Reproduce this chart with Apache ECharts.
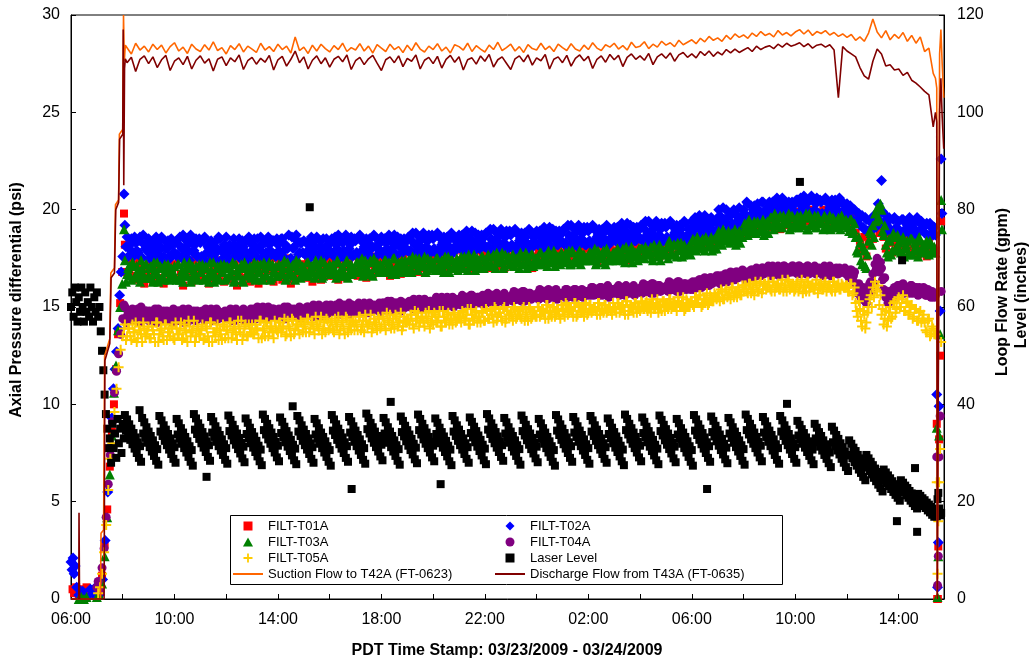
<!DOCTYPE html>
<html>
<head>
<meta charset="utf-8">
<script src="https://cdn.jsdelivr.net/npm/echarts@6/dist/echarts.min.js"></script>
<style>
  html, body { margin: 0; padding: 0; background: #fff; }
  #chart { width: 1033px; height: 664px; }
</style>
</head>
<body>
<div id="chart"></div>
<script>
// Time is in hours after 06:00 on 03/23/2009.
// Start-up and shut-down readings are listed as [hour, value].
// Steady-run filter / level readings: first reading of each 5-minute slot from 08:05 ("Run"),
// second reading 2.5 minutes later ("Run2"); one row per clock hour.
// Flow readings every 10 minutes from 08:10 to 15:20.
const FILT_START_H = 2 + 1 / 12;
const FILT_STEP_H = 1 / 12;
const SECOND_READING_START_H = 2 + 1 / 8;
const FLOW_START_H = 2 + 1 / 6;
const FLOW_STEP_H = 1 / 6;

// ---- FILT-T01A (psi) ----
const t01aStart = [[0.06,0.5],[0.12,0.3],[0.2,0.6],[0.3,0.2],[0.4,0.5],[0.5,0.3],[0.6,0.6],[0.7,0.4],[0.8,0.2],[0.9,0.5],[0.98,0.3],[1.1,0.4],
  [1.2,1.2],[1.3,2.8],[1.4,4.6],[1.5,6.8],[1.58,8.6],[1.66,10.0],[1.74,11.8],[1.82,13.6],[1.9,15.2],[1.98,16.8],[2.05,19.8]];
const t01aRun = [
  18.2,17.5,16.8,17.4,16.6,17.2,16.4,17.3,16.9,16.2,17.1,
  16.8,17.4,16.3,17.0,17.5,16.5,17.1,16.2,16.9,17.3,16.6,17.0,
  17.2,16.4,17.5,16.7,16.1,17.3,16.8,17.0,16.3,17.4,16.6,16.9,
  16.5,17.3,16.9,17.5,16.2,16.8,17.2,16.4,17.1,16.7,17.4,16.3,
  17.0,16.4,17.4,16.7,17.2,16.1,16.9,17.5,16.5,17.1,16.8,16.3,
  17.3,16.6,17.0,16.2,17.4,16.8,16.4,17.2,16.9,17.5,16.3,17.0,
  16.7,17.3,16.4,17.1,16.8,17.5,16.2,16.9,17.3,16.5,17.0,16.6,
  17.2,16.5,17.4,16.9,16.3,17.1,16.7,17.5,16.4,17.0,17.3,16.6,
  16.9,17.4,16.6,17.2,16.4,17.5,16.8,17.1,16.5,17.3,16.9,17.6,
  17.0,16.6,17.5,16.8,17.3,16.5,17.2,17.6,16.7,17.1,16.9,17.4,
  16.8,17.4,17.1,17.7,16.6,17.2,16.9,17.5,17.0,16.7,17.6,17.1,
  17.3,16.9,17.6,17.1,17.8,16.8,17.4,17.0,17.7,16.9,17.3,17.5,
  17.1,17.7,16.9,17.4,17.0,17.8,17.2,16.8,17.5,17.3,17.9,17.0,
  17.4,17.0,17.8,17.2,17.5,16.9,17.7,17.3,17.9,17.1,17.4,17.6,
  17.2,17.8,17.0,17.6,17.3,17.9,17.1,17.5,17.8,17.0,17.7,17.4,
  17.6,17.1,17.8,17.4,18.0,17.2,17.5,17.9,17.3,17.7,17.0,17.6,
  17.3,17.9,17.5,18.0,17.2,17.7,17.4,18.1,17.6,17.3,17.9,17.5,
  17.8,17.4,18.0,17.6,18.2,17.3,17.9,17.5,18.1,17.7,17.4,18.0,
  17.6,18.1,17.5,17.9,17.3,18.2,17.7,18.0,17.4,17.8,18.2,17.6,
  17.9,17.5,18.3,17.8,18.0,17.6,18.2,17.4,18.1,17.9,18.3,17.7,
  18.0,17.6,18.2,17.9,18.4,17.7,18.1,17.8,18.3,17.6,18.0,18.4,
  17.8,18.3,18.0,18.5,17.7,18.2,17.9,18.4,18.1,17.8,18.5,18.0,
  18.3,17.9,18.6,18.1,18.4,18.0,18.7,18.2,18.5,18.1,18.8,18.4,
  18.6,19.0,18.4,18.8,18.5,19.1,18.7,18.9,19.2,18.6,19.0,18.8,
  19.2,18.9,19.4,19.0,19.5,18.8,19.3,19.1,19.6,19.0,19.4,19.2,
  19.5,19.1,19.7,19.3,19.8,19.0,19.6,19.4,19.9,19.2,19.7,19.5,
  19.8,19.3,19.9,19.5,20.1,19.4,19.7,20.0,19.5,19.9,19.3,19.8,
  19.6,20.0,19.4,19.8,19.3,19.9,19.5,20.1,19.4,19.7,19.2,19.8,
  19.5,19.9,19.2,19.6,18.8,19.3,18.4,17.9,18.6,17.6,18.2,18.8,
  18.5,19.1,19.4,18.8,19.2,18.6,18.0,18.7,18.3,17.8,18.5,18.1,
  18.4,17.9,18.6,18.1,18.3,17.8,18.5,18.0,18.4,17.7,18.2,17.9,
  18.1,17.6,18.3,17.8,18.0];
const t01aStop = [[33.42,17.9],[33.47,9.0],[33.49,0.0],[33.51,0.0],[33.53,2.7],[33.56,8.2],[33.6,12.5],[33.64,19.4]];

// ---- FILT-T02A (psi) ----
const t02aStart = [[0.0,1.9],[0.04,1.5],[0.08,2.1],[0.12,1.3],[0.16,1.7],[0.22,0.6],[0.3,0.2],[0.45,0.4],[0.6,0.1],[0.75,0.5],[0.85,0.3],[0.95,0.6],[1.1,0.2],
  [1.22,1.0],[1.32,3.0],[1.42,5.5],[1.5,7.8],[1.58,9.3],[1.64,10.8],[1.7,11.8],[1.76,12.7],[1.82,13.9],[1.88,15.6],[1.94,16.8],[2.0,17.6],[2.05,20.8]];
const t02aRun = [
  19.2,18.6,18.0,18.5,17.6,18.3,17.8,18.6,17.5,18.2,17.9,
  18.5,17.7,18.1,17.4,18.3,17.9,18.6,17.6,18.0,18.4,17.5,18.2,
  17.8,18.4,17.5,18.1,18.7,17.7,18.2,17.4,18.3,17.9,18.5,17.6,
  18.3,17.5,18.6,17.8,18.0,18.4,17.6,18.1,17.3,18.5,17.9,18.2,
  18.6,17.8,18.0,17.5,18.2,17.9,18.5,17.6,18.1,18.4,17.4,18.3,
  17.9,18.5,17.6,18.0,18.6,17.8,18.3,17.5,18.2,17.7,18.4,17.6,
  18.2,17.6,18.5,17.9,18.1,18.7,17.5,18.0,17.4,18.4,17.8,18.3,
  18.4,17.8,18.2,17.5,18.3,18.0,18.6,17.7,18.1,18.5,17.6,18.2,
  17.9,18.5,17.6,18.2,18.7,17.8,18.3,17.5,18.4,18.0,18.6,17.7,
  18.4,17.6,18.7,17.9,18.1,18.5,17.7,18.2,17.5,18.6,18.0,18.3,
  18.6,17.8,18.3,17.6,18.4,18.0,18.7,17.7,18.2,18.5,17.8,18.3,
  17.9,18.6,17.7,18.3,18.8,17.9,18.4,17.7,18.5,18.1,18.7,17.8,
  18.5,17.8,18.8,18.0,18.2,18.6,17.9,18.4,17.7,18.7,18.1,18.4,
  18.7,18.0,18.4,17.8,18.6,18.2,18.9,17.9,18.3,18.7,18.0,18.5,
  18.1,18.8,17.9,18.5,19.0,18.1,18.6,17.9,18.7,18.3,18.9,18.0,
  18.7,18.0,19.0,18.2,18.4,18.8,18.1,18.6,17.9,18.9,18.3,18.6,
  18.9,18.2,18.6,18.0,18.8,18.4,19.1,18.1,18.5,18.9,18.2,18.7,
  18.3,19.0,18.1,18.7,19.2,18.3,18.8,18.1,18.9,18.5,19.1,18.2,
  18.9,18.2,19.2,18.4,18.6,19.0,18.3,18.8,18.1,19.1,18.5,18.8,
  19.1,18.4,18.8,18.2,19.0,18.6,19.3,18.3,18.7,19.1,18.4,18.9,
  18.5,19.2,18.3,18.9,19.4,18.5,19.0,18.3,19.1,18.7,19.3,18.4,
  19.1,18.4,19.4,18.6,18.8,19.2,18.5,19.0,18.3,19.3,18.7,19.0,
  19.4,18.7,19.1,18.6,19.4,19.0,19.7,18.8,19.2,19.6,18.9,19.4,
  19.0,19.7,18.9,19.5,20.0,19.2,19.7,19.0,19.8,19.4,20.1,19.3,
  20.0,19.4,20.3,19.6,19.8,20.2,19.5,20.0,19.4,20.4,19.8,20.1,
  20.4,19.7,20.1,19.5,20.3,19.9,20.6,19.7,20.0,20.4,19.7,20.2,
  19.8,20.5,19.7,20.2,20.7,19.9,20.4,19.6,20.5,20.0,20.6,19.8,
  20.4,19.7,20.6,19.9,20.1,20.5,19.7,20.2,19.6,20.5,19.9,20.2,
  20.3,19.6,20.0,19.4,19.9,19.5,19.2,19.7,19.0,19.5,18.9,19.4,
  19.0,19.6,19.2,19.8,21.5,19.3,19.7,19.0,19.5,18.9,19.6,19.1,
  19.4,18.8,19.5,19.0,19.2,19.6,18.9,19.3,18.7,19.4,18.9,19.2,
  18.8,19.3,18.6,19.1,18.7];
const t02aRun2 = [
  18.1,17.6,18.2,17.7,18.6,17.9,18.4,17.6,18.7,18.0,18.3,
  17.5,18.3,17.9,18.6,17.7,18.1,17.4,18.4,18.0,17.6,18.5,17.8,
  18.3,17.7,18.6,18.0,17.4,18.4,17.9,18.7,17.8,18.2,17.6,18.5,
  17.6,18.4,17.3,18.1,17.9,17.5,18.3,17.8,18.6,17.4,18.0,17.7,
  17.4,18.2,18.0,18.5,17.8,18.1,17.5,18.4,17.9,17.6,18.6,17.7,
  18.2,17.6,18.5,18.1,17.5,18.3,17.8,18.6,17.9,18.4,17.7,18.5,
  17.9,18.5,17.6,18.2,18.0,17.4,18.6,18.1,18.7,17.7,18.3,17.8,
  17.7,18.3,17.9,18.6,17.8,18.1,17.5,18.4,18.0,17.6,18.5,17.9,
  18.3,17.7,18.6,18.0,17.5,18.4,17.9,18.7,17.8,18.2,17.6,18.5,
  17.8,18.6,17.5,18.3,18.1,17.7,18.5,18.0,18.7,17.6,18.2,17.9,
  17.7,18.5,18.0,18.7,17.9,18.3,17.6,18.6,18.1,17.8,18.5,18.0,
  18.6,17.9,18.8,18.2,17.7,18.6,18.1,18.8,18.0,18.4,17.8,18.7,
  18.0,18.7,17.7,18.5,18.3,17.9,18.6,18.1,18.8,17.8,18.4,18.1,
  18.0,18.7,18.3,18.9,18.1,18.5,17.8,18.8,18.4,18.0,18.7,18.2,
  18.8,18.1,19.0,18.4,17.9,18.8,18.3,19.0,18.2,18.6,18.0,18.9,
  18.2,18.9,17.9,18.7,18.5,18.1,18.8,18.3,19.0,18.0,18.6,18.3,
  18.2,18.9,18.5,19.1,18.3,18.7,18.0,19.0,18.6,18.2,18.9,18.4,
  19.0,18.3,19.2,18.6,18.1,19.0,18.5,19.2,18.4,18.8,18.2,19.1,
  18.4,19.1,18.1,18.9,18.7,18.3,19.0,18.5,19.2,18.2,18.8,18.5,
  18.4,19.1,18.7,19.3,18.5,18.9,18.2,19.2,18.8,18.4,19.1,18.6,
  19.2,18.5,19.4,18.8,18.3,19.2,18.7,19.4,18.6,19.0,18.4,19.3,
  18.6,19.3,18.3,19.1,18.9,18.5,19.2,18.7,19.4,18.4,19.0,18.7,
  18.9,19.6,19.2,19.7,18.9,19.3,18.6,19.5,19.1,18.7,19.4,18.9,
  20.0,19.3,20.1,19.5,19.0,19.8,19.3,20.0,19.2,19.6,18.9,19.7,
  19.8,20.4,19.5,20.2,20.0,19.6,20.3,19.8,20.4,19.4,20.0,19.7,
  19.7,20.4,20.0,20.6,19.8,20.2,19.5,20.4,20.1,19.7,20.4,19.9,
  20.5,19.8,20.6,20.1,19.6,20.4,19.9,20.7,19.8,20.3,19.7,20.5,
  19.8,20.5,19.6,20.3,20.1,19.7,20.5,20.0,20.6,19.7,20.3,20.0,
  19.7,20.2,19.5,20.0,19.3,19.8,19.6,19.1,19.6,18.9,19.4,19.0,
  19.7,19.1,20.3,19.4,19.9,18.8,19.2,19.6,18.9,19.5,19.0,19.4,
  18.9,19.5,18.8,19.3,19.1,18.7,19.4,19.0,19.6,18.9,19.4,19.1,
  19.2,18.7,19.3,18.8,19.1];
const t02aStop = [[33.42,18.7],[33.47,10.5],[33.5,0.6],[33.53,2.9],[33.56,9.9],[33.6,14.8],[33.64,22.6],[33.67,19.8]];

// ---- FILT-T03A (psi) ----
const t03aStart = [[0.3,0.0],[0.4,0.1],[0.5,0.0],[0.6,0.1],[1.0,0.1],[1.1,0.2],
  [1.2,0.8],[1.3,2.2],[1.4,4.2],[1.5,6.4],[1.58,8.4],[1.66,10.6],[1.74,12.0],[1.82,13.8],[1.9,15.0],[1.98,16.2],[2.05,19.0]];
const t03aRun = [
  17.4,16.7,17.1,16.4,17.2,16.6,16.9,16.3,17.0,16.5,17.2,
  16.6,17.1,16.3,16.9,17.3,16.5,17.0,16.4,16.8,17.2,16.6,16.9,
  17.1,16.4,17.2,16.7,16.3,17.0,16.6,17.3,16.5,16.9,17.1,16.4,
  16.8,17.2,16.5,17.0,16.3,16.9,17.3,16.6,17.1,16.4,16.8,17.2,
  16.5,17.0,16.7,17.3,16.4,16.9,16.6,17.2,16.3,17.0,16.8,17.1,
  16.7,17.3,16.5,16.9,17.2,16.4,17.0,16.6,17.3,16.5,16.9,17.1,
  16.6,17.1,16.8,17.4,16.5,17.0,16.7,17.2,16.4,16.9,17.3,16.7,
  17.0,16.6,17.3,16.8,17.1,16.5,17.2,16.9,17.4,16.6,17.0,16.8,
  17.2,16.7,17.0,16.5,17.3,16.9,17.1,16.6,17.4,16.8,17.2,16.9,
  16.8,17.3,16.9,17.5,16.7,17.1,16.8,17.4,16.6,17.0,17.3,16.9,
  17.1,16.8,17.4,16.9,17.2,16.7,17.5,17.0,17.3,16.8,17.1,17.4,
  17.0,17.4,16.8,17.2,17.5,16.9,17.3,17.1,17.6,16.9,17.2,17.4,
  17.3,16.9,17.5,17.1,17.4,16.8,17.2,17.6,17.0,17.4,17.1,17.5,
  17.2,17.6,17.0,17.3,16.9,17.5,17.2,17.7,17.1,17.4,17.0,17.6,
  17.4,17.1,17.6,17.2,17.7,17.0,17.5,17.3,17.8,17.1,17.4,17.6,
  17.2,17.7,17.3,17.5,17.0,17.6,17.2,17.8,17.4,17.1,17.7,17.3,
  17.5,17.2,17.8,17.4,17.6,17.1,17.7,17.3,17.9,17.4,17.6,17.2,
  17.7,17.3,17.6,17.9,17.2,17.8,17.5,17.3,17.9,17.4,17.7,17.5,
  17.4,17.8,17.5,18.0,17.3,17.7,17.5,17.9,17.2,17.8,17.6,17.4,
  17.8,17.4,17.9,17.6,18.0,17.3,17.7,17.5,18.1,17.6,17.8,17.4,
  17.6,18.0,17.5,17.9,17.7,18.1,17.4,17.8,17.6,18.2,17.7,17.9,
  17.8,17.5,18.1,17.7,18.2,17.6,17.9,18.3,17.7,18.0,17.8,18.2,
  18.0,18.4,17.9,18.3,18.1,18.5,17.9,18.4,18.2,18.6,18.0,18.5,
  18.3,18.7,18.2,18.8,18.5,18.9,18.4,18.7,19.0,18.5,18.9,18.6,
  18.9,19.2,18.7,19.3,19.0,19.4,18.8,19.3,19.1,19.5,18.9,19.4,
  19.2,19.6,19.0,19.4,19.2,19.7,19.1,19.5,19.3,19.8,19.1,19.6,
  19.3,19.7,19.1,19.5,19.2,19.8,19.0,19.6,19.4,19.7,19.1,19.5,
  19.4,19.0,19.6,19.2,19.7,19.1,19.5,19.3,19.6,19.0,19.4,19.2,
  19.3,18.9,19.5,19.0,18.6,17.8,18.3,17.2,17.9,17.0,18.4,18.8,
  19.2,19.8,20.1,19.5,20.0,18.7,18.2,17.6,18.4,17.9,18.6,18.1,
  18.3,17.8,18.6,18.0,18.4,17.7,18.5,17.9,18.2,17.6,18.4,18.0,
  17.9,18.4,17.7,18.2,17.8];
const t03aRun2 = [
  16.3,17.0,16.6,17.3,16.5,17.1,16.8,17.4,16.7,17.2,16.5,
  17.0,16.5,17.3,16.7,16.3,17.1,16.6,17.2,16.8,16.4,17.0,16.7,
  16.5,17.2,16.4,16.9,17.3,16.6,17.0,16.3,17.1,16.7,16.5,17.2,
  16.8,16.4,17.1,16.6,17.3,16.7,16.3,17.0,16.5,17.2,16.8,16.4,
  17.1,16.6,16.9,16.3,17.2,16.7,17.0,16.4,17.3,16.6,16.8,16.5,
  17.0,16.4,17.2,16.8,16.5,17.3,16.7,17.1,16.4,17.2,16.8,16.6,
  17.2,16.7,17.0,16.4,17.3,16.8,17.1,16.6,17.4,16.9,16.5,17.1,
  16.9,17.3,16.6,17.1,16.8,17.4,16.7,17.0,16.5,17.3,16.9,17.1,
  16.7,17.2,16.9,17.4,16.6,17.0,16.8,17.3,16.5,17.1,16.7,17.0,
  17.3,16.8,17.2,16.6,17.4,17.0,17.3,16.7,17.5,17.1,16.8,17.2,
  17.1,17.4,16.8,17.3,17.0,17.5,16.7,17.2,16.9,17.4,17.1,16.8,
  17.4,17.0,17.6,17.2,16.9,17.5,17.1,17.3,16.8,17.5,17.2,17.0,
  17.1,17.5,16.9,17.3,17.0,17.6,17.2,16.8,17.4,17.0,17.3,16.9,
  17.4,17.0,17.6,17.3,17.7,17.1,17.4,16.9,17.5,17.2,17.6,17.0,
  17.4,17.7,17.2,17.6,17.1,17.8,17.3,17.5,17.0,17.7,17.4,17.2,
  17.6,17.1,17.5,17.3,17.8,17.2,17.6,17.0,17.4,17.7,17.1,17.5,
  17.5,17.8,17.2,17.6,17.4,17.9,17.3,17.7,17.1,17.6,17.4,17.8,
  17.4,17.8,17.5,17.2,17.9,17.3,17.6,17.8,17.2,17.7,17.4,17.6,
  17.8,17.4,17.7,17.2,17.9,17.5,17.7,17.3,18.0,17.4,17.6,17.8,
  17.6,18.0,17.5,17.8,17.4,18.1,17.7,17.9,17.3,17.8,17.6,18.0,
  18.0,17.6,18.1,17.7,17.9,17.5,18.2,17.8,18.0,17.4,17.9,17.7,
  18.1,18.4,17.8,18.2,17.7,18.3,18.0,17.6,18.2,17.9,18.1,17.7,
  18.5,18.1,18.6,18.2,18.4,18.0,18.6,18.1,18.3,17.9,18.5,18.0,
  18.9,18.5,19.0,18.4,18.7,18.3,18.8,18.5,18.2,18.7,18.3,18.6,
  19.3,19.0,19.5,18.9,19.2,18.8,19.4,18.9,19.1,18.7,19.3,18.8,
  19.6,19.2,19.8,19.4,19.6,19.1,19.7,19.3,19.5,19.0,19.7,19.2,
  19.5,19.1,19.7,19.3,19.6,19.0,19.8,19.2,19.4,19.1,19.7,19.3,
  19.3,19.7,19.1,19.5,19.0,19.6,19.2,19.4,19.1,19.7,19.3,19.5,
  19.1,19.5,18.8,19.3,17.9,18.6,17.4,18.1,17.1,17.7,18.9,18.2,
  18.6,19.4,19.6,20.3,18.9,19.2,17.8,18.5,17.7,18.8,18.0,18.7,
  17.9,18.4,17.6,18.2,17.8,18.5,17.7,18.3,18.0,18.6,17.8,18.2,
  18.3,17.8,18.4,17.9,18.1];
const t03aStop = [[33.42,17.8],[33.47,8.8],[33.5,0.1],[33.53,2.2],[33.56,8.4],[33.6,13.6],[33.64,20.5],[33.67,19.0]];

// ---- FILT-T04A (psi) ----
const t04aStart = [[1.0,0.6],[1.05,0.9],[1.12,0.4],[1.2,1.6],[1.28,2.6],[1.36,4.2],[1.44,5.9],[1.52,7.4],[1.6,9.1],[1.68,10.6],
  [1.76,11.7],[1.84,12.6],[1.92,13.6],[2.0,14.4],[2.05,15.1]];
const t04aRun = [
  15.0,14.5,14.8,14.3,14.7,14.4,14.9,14.2,14.6,14.4,14.8,
  14.3,14.7,14.5,14.9,14.2,14.6,14.4,14.8,14.3,14.7,14.5,14.2,
  14.6,14.3,14.8,14.4,14.9,14.5,14.2,14.7,14.4,14.8,14.3,14.6,
  14.5,14.8,14.3,14.7,14.4,14.9,14.6,14.3,14.8,14.5,14.7,14.4,
  14.7,14.4,14.9,14.5,14.3,14.8,14.6,14.4,14.9,14.5,14.7,14.3,
  14.6,14.9,14.4,14.8,14.5,15.0,14.6,14.4,14.8,14.5,14.9,14.7,
  14.5,14.8,14.6,15.0,14.4,14.7,14.9,14.5,14.8,14.6,15.0,14.7,
  14.9,14.6,15.0,14.7,14.5,14.9,14.7,15.1,14.6,14.8,14.5,14.9,
  14.7,15.0,14.8,15.1,14.6,14.9,14.7,15.0,14.8,15.2,14.7,14.9,
  15.0,14.7,15.1,14.8,15.2,14.9,14.7,15.1,14.8,15.0,14.9,15.2,
  14.9,15.2,15.0,15.3,14.8,15.1,14.9,15.2,15.0,15.3,14.9,15.1,
  15.1,15.3,15.0,15.4,15.1,14.9,15.3,15.0,15.4,15.2,15.0,15.3,
  15.2,15.0,15.4,15.1,15.5,15.2,15.0,15.4,15.2,15.5,15.1,15.3,
  15.3,15.1,15.5,15.2,15.4,15.1,15.6,15.3,15.2,15.5,15.3,15.6,
  15.4,15.2,15.6,15.3,15.5,15.2,15.6,15.4,15.3,15.7,15.4,15.5,
  15.5,15.3,15.7,15.4,15.6,15.3,15.8,15.5,15.4,15.7,15.5,15.6,
  15.6,15.4,15.8,15.5,15.7,15.4,15.8,15.6,15.5,15.9,15.6,15.7,
  15.7,15.5,15.9,15.6,15.8,15.5,15.9,15.7,15.6,15.9,15.7,15.8,
  15.8,15.6,16.0,15.7,15.9,15.6,16.0,15.8,15.7,16.1,15.8,15.9,
  15.9,15.7,16.1,15.8,16.0,15.6,16.0,15.8,15.7,16.1,15.9,15.8,
  15.9,15.7,16.1,15.8,16.0,15.7,16.2,15.9,15.8,16.1,15.9,16.0,
  16.0,15.8,16.2,15.9,16.1,15.8,16.3,16.0,15.9,16.2,16.0,16.2,
  16.1,15.9,16.3,16.0,16.4,16.1,16.5,16.2,16.1,16.5,16.3,16.4,
  16.4,16.2,16.6,16.3,16.7,16.4,16.8,16.5,16.4,16.8,16.6,16.7,
  16.6,16.4,16.8,16.5,16.9,16.6,17.0,16.7,16.6,17.0,16.8,16.9,
  16.8,16.6,17.0,16.7,17.1,16.8,16.9,17.1,16.7,17.0,16.8,17.1,
  16.9,16.7,17.1,16.8,17.0,16.7,17.1,16.9,16.8,17.1,16.9,17.0,
  16.8,16.6,17.0,16.7,17.1,16.8,16.9,17.0,16.7,16.9,16.8,17.0,
  16.8,16.5,16.9,16.6,16.2,15.7,16.0,15.4,15.8,15.2,15.9,16.3,
  16.7,17.2,17.5,16.8,17.0,15.9,15.5,15.2,15.8,15.4,16.0,15.7,
  16.1,15.8,16.2,15.9,16.0,15.7,16.1,15.8,16.0,15.6,15.9,15.7,
  15.9,15.6,15.8,15.5,15.7];
const t04aRun2 = [
  14.2,14.7,14.4,14.9,14.5,14.8,14.3,15.0,14.6,14.8,14.4,
  14.8,14.4,14.6,14.2,14.9,14.5,14.7,14.3,14.8,14.4,14.6,14.9,
  14.5,14.8,14.3,14.7,14.2,14.6,14.9,14.4,14.7,14.3,14.8,14.5,
  14.7,14.4,14.9,14.5,14.8,14.3,14.6,14.9,14.4,14.7,14.5,14.8,
  14.5,14.8,14.3,14.7,14.9,14.4,14.6,14.8,14.3,14.7,14.5,14.9,
  14.8,14.5,15.0,14.6,14.9,14.4,14.8,15.0,14.6,14.9,14.5,14.7,
  14.9,14.6,14.8,14.4,15.0,14.7,14.5,14.9,14.6,14.8,14.4,14.7,
  14.7,15.0,14.6,14.9,15.1,14.7,14.9,14.5,15.0,14.8,15.1,14.7,
  15.1,14.8,15.0,14.7,15.2,14.9,15.1,14.8,15.0,14.6,15.1,14.9,
  14.9,15.2,14.8,15.1,14.7,15.0,15.2,14.8,15.1,14.9,15.0,14.7,
  15.2,14.9,15.1,14.8,15.3,15.0,15.2,14.9,15.1,14.8,15.2,15.0,
  15.2,15.0,15.3,14.9,15.2,15.4,15.0,15.3,14.9,15.1,15.3,15.0,
  15.3,15.5,15.1,15.4,15.0,15.3,15.5,15.1,15.3,15.0,15.4,15.2,
  15.4,15.6,15.2,15.5,15.3,15.6,15.1,15.4,15.5,15.2,15.4,15.1,
  15.5,15.7,15.3,15.6,15.4,15.7,15.3,15.5,15.6,15.2,15.5,15.4,
  15.6,15.8,15.4,15.7,15.5,15.8,15.3,15.6,15.7,15.4,15.6,15.5,
  15.7,15.9,15.5,15.8,15.6,15.9,15.5,15.7,15.8,15.4,15.7,15.6,
  15.7,15.9,15.5,15.8,15.6,15.9,15.5,15.7,15.8,15.5,15.7,15.6,
  15.8,16.0,15.6,15.9,15.7,16.0,15.6,15.8,15.9,15.5,15.8,15.7,
  15.8,16.0,15.6,15.9,15.7,16.1,15.7,15.9,16.0,15.6,15.8,15.9,
  16.0,16.2,15.8,16.1,15.9,16.2,15.7,16.0,16.1,15.8,16.0,15.9,
  16.1,16.3,15.9,16.2,16.0,16.3,15.8,16.1,16.2,15.9,16.1,15.9,
  16.3,16.1,16.2,16.4,16.0,16.3,16.1,16.4,16.5,16.2,16.4,16.6,
  16.6,16.4,16.5,16.7,16.3,16.6,16.4,16.7,16.8,16.5,16.7,16.9,
  16.8,16.6,16.7,16.9,16.5,16.8,16.6,16.9,17.0,16.7,16.9,17.1,
  16.9,17.1,16.7,17.0,16.6,16.9,17.1,16.7,17.0,16.8,17.1,16.8,
  16.9,17.1,16.7,17.0,16.8,17.1,16.7,16.9,17.0,16.7,16.9,16.8,
  16.9,17.1,16.7,17.0,16.6,16.9,16.8,16.7,17.0,16.8,16.9,16.7,
  16.6,16.9,16.4,16.8,15.8,16.2,15.5,16.0,15.3,15.7,16.2,15.8,
  16.2,16.9,17.0,17.3,16.4,16.5,15.8,15.6,15.3,15.9,15.6,16.1,
  15.8,16.1,15.7,16.0,15.8,16.1,15.7,16.0,15.7,16.0,15.7,16.0,
  15.6,15.9,15.6,15.8,15.5];
const t04aStop = [[33.42,15.6],[33.47,7.3],[33.5,0.7],[33.53,2.2],[33.56,7.3],[33.6,9.4],[33.64,15.8]];

// ---- FILT-T05A (psi) ----
const t05aStart = [[1.05,0.3],[1.12,0.6],[1.2,1.3],[1.28,2.4],[1.36,3.8],[1.44,5.6],[1.52,7.2],[1.6,8.0],[1.68,9.6],[1.76,10.8],
  [1.84,11.9],[1.92,12.8],[2.0,13.5],[2.05,13.9]];
const t05aRun = [
  14.1,13.5,13.9,13.3,13.7,14.2,13.4,13.8,13.2,13.9,13.6,
  14.0,13.4,13.8,13.2,14.2,13.6,13.9,13.3,14.1,13.7,13.5,14.0,
  13.3,13.9,13.6,14.2,13.4,13.8,13.2,14.0,13.7,14.3,13.5,13.9,
  13.6,14.1,13.4,13.9,13.2,14.2,13.7,13.5,14.1,13.8,13.3,14.0,
  13.8,13.4,14.2,13.7,14.0,13.3,13.9,14.3,13.6,14.1,13.5,13.9,
  14.1,13.6,13.9,13.4,14.3,13.8,13.5,14.2,13.7,14.0,13.4,13.9,
  13.7,14.2,13.9,14.4,13.6,14.0,13.5,14.3,13.8,14.1,13.6,14.2,
  14.0,13.7,14.4,13.9,14.2,13.6,14.1,13.8,14.5,13.9,13.7,14.3,
  13.9,14.3,13.7,14.1,14.5,13.8,14.2,13.6,14.4,14.0,13.8,14.3,
  14.2,13.8,14.5,14.0,13.7,14.3,14.1,14.6,13.9,14.2,13.8,14.4,
  14.0,14.4,13.8,14.3,14.6,14.1,13.9,14.5,14.2,14.7,14.0,14.3,
  14.4,14.1,14.6,13.9,14.3,14.7,14.2,14.5,14.0,14.4,14.8,14.2,
  14.1,14.6,14.3,14.8,14.0,14.5,14.2,14.7,14.4,14.1,14.6,14.3,
  14.5,14.2,14.7,14.4,14.9,14.1,14.6,14.3,14.8,14.5,14.2,14.7,
  14.3,14.8,14.4,14.6,14.2,14.9,14.5,14.7,14.3,15.0,14.4,14.6,
  14.7,14.3,14.9,14.5,14.8,14.4,15.0,14.6,14.3,14.9,14.5,14.8,
  14.5,15.0,14.6,14.8,14.4,15.1,14.7,14.5,15.0,14.6,14.9,14.4,
  14.8,14.5,15.1,14.7,14.9,14.5,15.2,14.6,15.0,14.8,14.5,15.1,
  14.7,15.1,14.8,15.0,14.6,15.2,14.9,14.7,15.1,14.8,15.0,14.6,
  15.0,14.7,15.2,14.9,15.1,14.6,15.3,14.8,15.0,14.7,15.2,14.9,
  14.8,15.2,14.9,15.3,15.0,14.7,15.2,14.9,15.4,15.0,14.8,15.3,
  15.1,14.9,15.4,15.0,15.2,14.8,15.3,15.1,15.5,14.9,15.2,15.0,
  15.3,15.0,15.5,15.2,15.6,15.1,15.4,15.7,15.2,15.5,15.3,15.6,
  15.5,15.3,15.8,15.4,15.9,15.6,15.4,16.0,15.7,15.5,15.9,15.6,
  15.8,16.1,15.7,16.2,15.9,15.6,16.1,15.8,16.3,15.9,16.2,16.0,
  16.1,15.8,16.3,16.0,16.2,15.9,16.4,16.0,15.8,16.3,16.1,16.2,
  15.9,16.3,16.0,16.4,16.1,15.8,16.3,16.0,16.2,15.9,16.4,16.1,
  16.2,15.9,16.3,16.0,16.1,15.8,16.3,16.0,16.2,15.9,16.1,16.0,
  16.1,15.8,16.2,15.7,15.2,14.5,14.9,14.0,14.6,14.2,15.0,15.6,
  16.0,16.3,15.8,15.1,14.6,14.1,14.8,14.3,15.0,14.5,15.3,14.9,
  15.5,15.0,15.6,14.8,15.3,14.7,15.1,14.5,14.9,14.3,14.8,14.4,
  14.2,13.7,14.4,13.6,13.9];
const t05aRun2 = [
  13.3,13.9,13.5,14.1,13.7,13.2,14.0,13.6,14.2,13.5,13.8,
  13.4,14.0,13.6,14.2,13.2,13.8,13.5,14.1,13.3,13.7,13.9,13.4,
  14.2,13.6,13.9,13.3,14.1,13.7,14.3,13.5,13.8,13.2,14.0,13.6,
  13.8,13.3,14.0,13.5,14.2,13.2,13.7,13.9,13.3,13.6,14.1,13.4,
  13.8,14.2,13.4,13.9,13.6,14.3,13.7,13.3,14.0,13.5,14.1,13.7,
  13.6,14.1,13.8,14.3,13.4,13.9,14.2,13.5,14.0,13.7,14.3,13.8,
  14.2,13.7,14.0,13.5,14.3,13.9,14.4,13.6,14.1,13.8,14.3,13.7,
  14.1,14.4,13.7,14.2,13.9,14.5,14.0,14.3,13.6,14.2,14.4,13.8,
  14.2,13.8,14.4,14.0,13.6,14.3,13.9,14.5,13.7,14.1,14.3,13.8,
  14.1,14.5,13.8,14.3,14.6,14.0,14.2,13.7,14.4,14.1,14.5,13.9,
  14.5,14.1,14.7,14.2,13.9,14.4,14.6,14.0,14.3,13.8,14.5,14.2,
  14.3,14.6,14.1,14.8,14.4,14.0,14.5,14.2,14.7,14.3,13.9,14.5,
  14.7,14.2,14.5,14.0,14.8,14.3,14.6,14.1,14.4,14.7,14.2,14.5,
  14.5,14.8,14.3,14.6,14.1,14.9,14.4,14.7,14.2,14.5,14.8,14.3,
  14.9,14.4,14.8,14.6,15.0,14.3,14.7,14.5,14.9,14.2,14.8,14.6,
  14.6,15.0,14.4,14.8,14.5,14.9,14.3,14.7,15.0,14.4,14.8,14.5,
  15.0,14.5,14.9,14.7,15.1,14.4,14.8,15.0,14.5,14.9,14.6,15.1,
  14.9,15.2,14.6,15.0,14.8,15.2,14.5,15.1,14.7,14.9,15.2,14.6,
  15.1,14.7,15.0,14.8,15.2,14.6,14.9,15.1,14.7,15.0,14.8,15.2,
  14.9,15.2,14.7,15.0,14.8,15.3,14.6,15.1,14.9,15.2,14.7,15.0,
  15.3,14.9,15.2,14.8,15.1,15.4,14.9,15.2,14.7,15.1,15.3,14.8,
  15.2,15.4,14.9,15.3,15.1,15.5,15.0,15.2,14.8,15.4,15.1,15.3,
  15.1,15.5,15.2,15.6,15.0,15.4,15.3,15.1,15.6,15.3,15.7,15.4,
  15.7,15.9,15.4,15.8,15.5,15.7,16.0,15.5,15.8,16.0,15.6,16.1,
  16.1,15.8,16.2,15.7,16.0,16.3,15.8,16.2,15.7,16.2,15.9,16.3,
  15.9,16.3,15.8,16.1,15.9,16.2,15.8,16.1,16.4,15.9,16.0,15.8,
  16.2,15.8,16.1,15.7,16.0,16.3,15.8,16.1,15.9,16.2,15.7,16.0,
  15.9,16.2,15.8,16.1,15.9,16.3,15.8,16.1,15.9,16.2,16.0,16.1,
  15.8,16.2,15.6,16.0,14.8,15.3,14.3,14.8,13.9,14.7,15.4,15.0,
  15.5,15.9,16.1,15.6,14.9,14.4,14.0,14.7,14.4,15.2,14.7,15.4,
  15.0,15.4,14.8,15.2,14.6,15.0,14.4,14.9,14.3,14.7,14.2,14.6,
  13.8,14.3,13.5,14.0,13.6];
const t05aStop = [[33.42,13.6],[33.47,6.0],[33.5,1.3],[33.53,4.0],[33.56,6.0],[33.6,7.7],[33.64,13.2]];

// ---- Laser Level (inches) ----
const laserStart = [[0.0,60],[0.05,63],[0.1,58],[0.15,64],[0.2,61],[0.25,57],[0.3,62],[0.35,59],[0.4,64],[0.45,60],[0.5,57],[0.55,63],
  [0.6,59],[0.65,61],[0.7,58],[0.75,64],[0.8,60],[0.85,57],[0.9,62],[0.95,59],[1.0,63],[1.05,58],[1.1,60],[1.15,55],[1.2,51],[1.25,47],
  [1.3,42],[1.35,38],[1.4,35],[1.45,31],[1.5,33],[1.55,28],[1.6,36],[1.65,31],[1.7,34],[1.75,29],[1.8,37],[1.85,32],[1.9,35],[1.95,30],
  [2.0,36],[2.04,33]];
// each group of 8 is one ~40 minute fill/drain cycle
const laserRun = [
  37.8,36.9,35.9,35.0,34.1,33.2,32.2,31.4, 37.2,36.3,35.3,34.4,33.5,32.6,31.6,30.8,
  37.6,36.7,35.7,34.8,33.9,33.0,32.0,31.2, 37.0,36.1,35.1,34.2,33.3,32.4,31.4,30.6,
  38.0,37.1,36.1,35.2,34.3,33.4,32.4,31.6, 37.4,36.5,35.5,34.6,33.7,32.8,31.8,31.0,
  37.7,36.8,35.8,34.9,34.0,33.1,32.1,31.3, 37.1,36.2,35.2,34.3,33.4,32.5,31.5,30.7,
  37.9,37.0,36.0,35.1,34.2,33.3,32.3,31.5, 37.3,36.4,35.4,34.5,33.6,32.7,31.7,30.9,
  37.6,36.7,35.7,34.8,33.9,33.0,32.0,31.2, 37.0,36.1,35.1,34.2,33.3,32.4,31.4,30.6,
  37.8,36.9,35.9,35.0,34.1,33.2,32.2,31.4, 37.4,36.5,35.5,34.6,33.7,32.8,31.8,31.0,
  38.1,37.2,36.2,35.3,34.4,33.5,32.5,31.7, 37.2,36.3,35.3,34.4,33.5,32.6,31.6,30.8,
  37.5,36.6,35.6,34.7,33.8,32.9,31.9,31.1, 37.9,37.0,36.0,35.1,34.2,33.3,32.3,31.5,
  37.1,36.2,35.2,34.3,33.4,32.5,31.5,30.7, 37.6,36.7,35.7,34.8,33.9,33.0,32.0,31.2,
  37.3,36.4,35.4,34.5,33.6,32.7,31.7,30.9, 38.0,37.1,36.1,35.2,34.3,33.4,32.4,31.6,
  37.2,36.3,35.3,34.4,33.5,32.6,31.6,30.8, 37.7,36.8,35.8,34.9,34.0,33.1,32.1,31.3,
  37.0,36.1,35.1,34.2,33.3,32.4,31.4,30.6, 37.8,36.9,35.9,35.0,34.1,33.2,32.2,31.4,
  37.4,36.5,35.5,34.6,33.7,32.8,31.8,31.0, 37.6,36.7,35.7,34.8,33.9,33.0,32.0,31.2,
  37.1,36.2,35.2,34.3,33.4,32.5,31.5,30.7, 37.9,37.0,36.0,35.1,34.2,33.3,32.3,31.5,
  37.3,36.4,35.4,34.5,33.6,32.7,31.7,30.9, 37.7,36.8,35.8,34.9,34.0,33.1,32.1,31.3,
  37.0,36.1,35.1,34.2,33.3,32.4,31.4,30.6, 37.8,36.9,35.9,35.0,34.1,33.2,32.2,31.4,
  37.5,36.6,35.6,34.7,33.8,32.9,31.9,31.1, 37.2,36.3,35.3,34.4,33.5,32.6,31.6,30.8,
  37.9,37.0,36.0,35.1,34.2,33.3,32.3,31.5, 37.4,36.5,35.5,34.6,33.7,32.8,31.8,31.0,
  37.6,36.7,35.7,34.8,33.9,33.0,32.0,31.2,
  36.6,35.8,34.9,34.1,33.2,32.4,31.5,30.7, 36.0,35.2,34.3,33.5,32.6,31.8,30.9,30.1,
  35.4,34.6,33.7,32.9,32.0,31.2,30.3,29.5, 32.6,31.9,31.1,30.4,29.6,28.9,28.1,27.4,
  29.6,28.9,28.2,27.5,26.8,26.1,25.4,24.7, 26.6,26.0,25.4,24.8,24.2,23.6,23.0,22.4,
  24.4,23.9,23.3,22.8,22.2,21.7,21.1,20.6, 21.6,21.2,20.7,20.3,19.8,19.4,18.9,18.5];
const laserRun2 = [
  34.6,33.7,32.7,31.8,30.9,30.0,29.0,28.2, 34.0,33.1,32.1,31.2,30.3,29.4,28.4,27.6,
  34.4,33.5,32.5,31.6,30.7,29.8,28.8,28.0, 33.8,32.9,31.9,31.0,30.1,29.2,28.2,27.4,
  34.8,33.9,32.9,32.0,31.1,30.2,29.2,28.4, 34.2,33.3,32.3,31.4,30.5,29.6,28.6,27.8,
  34.5,33.6,32.6,31.7,30.8,29.9,28.9,28.1, 33.9,33.0,32.0,31.1,30.2,29.3,28.3,27.5,
  34.7,33.8,32.8,31.9,31.0,30.1,29.1,28.3, 34.1,33.2,32.2,31.3,30.4,29.5,28.5,27.7,
  34.4,33.5,32.5,31.6,30.7,29.8,28.8,28.0, 33.8,32.9,31.9,31.0,30.1,29.2,28.2,27.4,
  34.6,33.7,32.7,31.8,30.9,30.0,29.0,28.2, 34.2,33.3,32.3,31.4,30.5,29.6,28.6,27.8,
  34.9,34.0,33.0,32.1,31.2,30.3,29.3,28.5, 34.0,33.1,32.1,31.2,30.3,29.4,28.4,27.6,
  34.3,33.4,32.4,31.5,30.6,29.7,28.7,27.9, 34.7,33.8,32.8,31.9,31.0,30.1,29.1,28.3,
  33.9,33.0,32.0,31.1,30.2,29.3,28.3,27.5, 34.4,33.5,32.5,31.6,30.7,29.8,28.8,28.0,
  34.1,33.2,32.2,31.3,30.4,29.5,28.5,27.7, 34.8,33.9,32.9,32.0,31.1,30.2,29.2,28.4,
  34.0,33.1,32.1,31.2,30.3,29.4,28.4,27.6, 34.5,33.6,32.6,31.7,30.8,29.9,28.9,28.1,
  33.8,32.9,31.9,31.0,30.1,29.2,28.2,27.4, 34.6,33.7,32.7,31.8,30.9,30.0,29.0,28.2,
  34.2,33.3,32.3,31.4,30.5,29.6,28.6,27.8, 34.4,33.5,32.5,31.6,30.7,29.8,28.8,28.0,
  33.9,33.0,32.0,31.1,30.2,29.3,28.3,27.5, 34.7,33.8,32.8,31.9,31.0,30.1,29.1,28.3,
  34.1,33.2,32.2,31.3,30.4,29.5,28.5,27.7, 34.5,33.6,32.6,31.7,30.8,29.9,28.9,28.1,
  33.8,32.9,31.9,31.0,30.1,29.2,28.2,27.4, 34.6,33.7,32.7,31.8,30.9,30.0,29.0,28.2,
  34.3,33.4,32.4,31.5,30.6,29.7,28.7,27.9, 34.0,33.1,32.1,31.2,30.3,29.4,28.4,27.6,
  34.7,33.8,32.8,31.9,31.0,30.1,29.1,28.3, 34.2,33.3,32.3,31.4,30.5,29.6,28.6,27.8,
  34.4,33.5,32.5,31.6,30.7,29.8,28.8,28.0,
  33.6,32.8,31.9,31.1,30.2,29.4,28.5,27.7, 33.0,32.2,31.3,30.5,29.6,28.8,27.9,27.1,
  32.2,31.4,30.5,29.7,28.8,28.0,27.1,26.3, 29.6,28.9,28.1,27.4,26.6,25.9,25.1,24.4,
  27.0,26.3,25.6,24.9,24.2,23.5,22.8,22.1, 24.4,23.8,23.2,22.6,22.0,21.4,20.8,20.2,
  22.4,21.9,21.3,20.8,20.2,19.7,19.1,18.6, 20.0,19.6,19.1,18.7,18.2,17.8,17.3,16.9];
const laserStop = [[33.42,18.2],[33.47,17.0],[33.5,20.5],[33.53,21.8],[33.56,18.6],[33.6,17.2],[33.64,17.7]];
// isolated level readings away from the main band
const laserStray = [[2.65,38.8],[5.24,25.1],[8.57,39.6],[9.23,80.5],[10.85,22.6],[12.36,40.5],[14.29,23.6],
  [24.59,22.6],[27.68,40.1],[28.18,85.7],[31.93,16.0],[32.13,69.6],[32.63,26.9],[32.71,13.8]];

// ---- Suction Flow to T42A, FT-0623 (gpm) ----
const suctionStart = [[0,0],[1.14,0],[1.16,13.5],[1.26,14.2],[1.3,50],[1.5,53.5],[1.54,67],[1.68,68],[1.72,81],[1.84,82],
  [1.87,95.5],[2.0,96.5],[2.03,120],[2.06,110.5],[2.1,113.8]];
const suctionRun = [113.5,112.0,114.2,112.8,113.6,
  112.4,114.0,112.9,113.8,112.2,113.5, 114.3,112.6,113.4,112.1,114.0,113.0, 112.5,113.9,112.8,114.5,112.7,113.3,
  112.0,113.7,112.9,114.1,112.4,113.6, 113.0,112.3,114.2,112.8,113.5,112.5, 114.0,112.9,113.6,112.2,115.5,112.7,
  113.4,112.1,113.8,112.6,114.0,113.1, 112.4,113.7,112.9,114.2,112.5,113.3, 112.8,114.1,112.6,113.6,112.2,113.9,
  113.2,112.5,114.0,112.9,113.5,112.3, 113.8,112.7,114.3,113.0,112.4,113.6, 112.9,114.1,112.6,113.4,112.2,113.9,
  113.5,112.8,114.2,112.5,113.7,113.0, 112.4,113.8,112.9,114.4,112.7,113.3, 114.0,112.6,113.5,112.3,113.9,113.1,
  112.8,114.2,112.9,113.6,112.5,114.0, 113.3,112.7,114.1,113.0,112.6,113.8, 112.9,114.3,113.2,112.7,113.9,113.4,
  114.2,113.0,113.7,112.8,114.4,113.3, 113.6,114.5,113.1,114.0,113.4,114.6, 113.8,114.3,113.5,114.8,113.9,114.4,
  114.9,114.1,115.2,114.5,115.6,114.8, 115.3,114.6,115.8,115.0,116.1,115.4, 115.9,115.2,116.3,115.6,116.6,115.8,
  116.2,115.5,116.8,115.9,116.4,115.7, 116.5,117.0,116.1,116.9,115.8,116.6, 116.2,116.8,115.9,116.4,115.6,116.1,
  115.4,116.0,114.8,115.5,114.6,116.3, 119.2,116.5,115.3,116.8,114.9,116.0, 115.2,116.4,114.6,115.8,114.2,115.5,
  112.5,113.2,108.0];
const suctionStop = [[33.42,107.0],[33.47,105.0],[33.49,0],[33.55,0],[33.58,112],[33.63,117],[33.68,110],[33.74,103]];

// ---- Discharge Flow from T43A, FT-0635 (gpm) ----
const dischargeStart = [[0,0],[0.3,0],[0.31,17.7],[0.33,0],[1.28,0],[1.31,49],[1.5,52.5],[1.55,66],[1.68,67],[1.73,80],[1.84,81.5],
  [1.88,94.5],[2.0,95.5],[2.02,117],[2.04,85],[2.07,109],[2.1,111]];
const dischargeRun = [110.2,111.3,108.4,110.9,111.6,
  110.0,111.4,109.2,110.8,111.7,108.6, 110.5,111.2,109.8,111.5,108.9,110.7, 111.6,110.1,111.0,108.5,110.9,111.4,
  109.6,111.2,110.4,111.8,108.8,110.6, 111.3,109.9,111.1,110.3,111.7,108.7, 110.8,111.5,109.5,110.9,112.6,110.2,
  111.4,108.9,110.7,111.6,110.0,111.2, 109.3,110.9,111.5,110.4,111.8,108.8, 110.6,111.3,109.8,111.0,111.7,110.1,
  108.6,110.8,111.4,110.2,111.6,109.4, 111.1,110.5,111.8,108.9,110.7,111.3, 110.0,111.5,109.1,110.9,111.7,110.3,
  111.4,108.7,110.8,111.2,109.9,111.6, 110.5,111.9,109.3,110.8,111.4,110.1, 108.8,111.0,111.6,110.4,111.8,109.7,
  111.2,110.6,111.9,108.9,110.9,111.4, 110.2,111.7,109.5,111.1,111.8,110.6, 111.5,109.0,110.9,111.6,110.3,111.9,
  110.8,111.7,109.4,111.3,112.0,110.9, 111.6,110.7,112.1,109.8,111.4,112.0, 111.1,112.2,110.5,111.8,112.3,111.3,
  112.0,111.2,112.5,111.7,112.6,111.5, 112.4,111.8,112.9,112.2,113.0,112.3, 112.8,113.3,112.5,113.6,112.9,113.4,
  113.7,113.1,114.0,113.4,114.2,113.6, 113.9,114.3,113.5,114.1,113.2,113.8, 114.0,113.4,113.9,112.8,103.0,113.5,
  112.6,112.0,111.4,109.2,107.5,106.8, 110.5,113.0,112.0,109.5,109.8,108.7, 108.9,107.6,108.2,106.6,106.0,105.2,
  104.3,103.6,97.0];
const dischargeStop = [[33.42,100.0],[33.47,98.0],[33.49,0],[33.55,0],[33.58,100],[33.63,107],[33.68,99],[33.74,92.5]];

// Axis ticks
const X_MAX_H = 33.75;
const LEFT_TICKS = { min: 0, max: 30, interval: 5 };
const RIGHT_TICKS = { min: 0, max: 120, interval: 20 };

function timed(values, startH, stepH) {
  return values.map((v, i) => [startH + i * stepH, v]);
}
function filtSeries(start, run, stop, run2) {
  let out = start.concat(timed(run, FILT_START_H, FILT_STEP_H));
  if (run2) out = out.concat(timed(run2, SECOND_READING_START_H, FILT_STEP_H));
  return out.concat(stop);
}
function flowSeries(start, run, stop) {
  return start.concat(timed(run, FLOW_START_H, FLOW_STEP_H), stop);
}
function clockLabel(h) {
  if (Math.abs(h % 4) > 1e-6) return '';
  const hh = (6 + Math.round(h)) % 24;
  return (hh < 10 ? '0' : '') + hh + ':00';
}

const FONT = 'Liberation Sans, Arial, sans-serif';
const PLUS = 'path://M4,0H6V4H10V6H6V10H4V6H0V4H4Z';
// legend keys (kept at their own aspect ratio)
const KEY_SQUARE = 'path://M0,0H8V8H0Z';
const KEY_DIAMOND = 'path://M5,0L10,5L5,10L0,5Z';
const KEY_TRIANGLE = 'path://M5,0L10,9L0,9Z';
const KEY_CIRCLE = 'circle';
const KEY_LINE = 'path://M0,0H30V2H0Z';

function scatter(name, data, symbol, size, color, yIdx) {
  return {
    name, type: 'scatter', data, symbol, symbolSize: size,
    yAxisIndex: yIdx || 0, itemStyle: { color, opacity: 1 },
    emphasis: { disabled: true }, clip: false, large: false
  };
}
function flow(name, data, color) {
  return {
    name, type: 'line', data, yAxisIndex: 1, symbol: 'none', showSymbol: false,
    lineStyle: { color, width: 1.6 }, itemStyle: { color },
    emphasis: { disabled: true }, clip: false
  };
}

const laserData = filtSeries(laserStart, laserRun, laserStop, laserRun2).concat(laserStray);

const chart = echarts.init(document.getElementById('chart'), null, { renderer: 'canvas' });

const legendBase = {
  orient: 'vertical', itemWidth: 30, itemHeight: 9, itemGap: 2, selectedMode: false,
  symbolKeepAspect: true, padding: 0, z: 20,
  itemStyle: { borderWidth: 0 }, lineStyle: { width: 0 },
  textStyle: { fontFamily: FONT, fontSize: 13, color: '#000', lineHeight: 14 }
};

chart.setOption({
  animation: false,
  backgroundColor: '#fff',
  grid: { left: 71, right: 89, top: 15, bottom: 65, show: true, borderColor: '#000', borderWidth: 1, backgroundColor: 'transparent' },
  xAxis: {
    type: 'value', min: 0, max: X_MAX_H, interval: 2,
    axisLine: { lineStyle: { color: '#000', width: 1 } },
    axisTick: { inside: true, length: 5, lineStyle: { color: '#000' } },
    axisLabel: { formatter: clockLabel, fontFamily: FONT, fontSize: 16, color: '#000', margin: 13, showMaxLabel: false },
    splitLine: { show: false }
  },
  yAxis: [
    {
      type: 'value', min: LEFT_TICKS.min, max: LEFT_TICKS.max, interval: LEFT_TICKS.interval,
      axisLine: { show: true, lineStyle: { color: '#000' } },
      axisTick: { show: true, inside: true, length: 5, lineStyle: { color: '#000' } },
      axisLabel: { fontFamily: FONT, fontSize: 16, color: '#000', margin: 11 },
      splitLine: { show: false }
    },
    {
      type: 'value', min: RIGHT_TICKS.min, max: RIGHT_TICKS.max, interval: RIGHT_TICKS.interval, position: 'right',
      axisLine: { show: true, lineStyle: { color: '#000' } },
      axisTick: { show: true, inside: true, length: 5, lineStyle: { color: '#000' } },
      axisLabel: { fontFamily: FONT, fontSize: 16, color: '#000', margin: 13 },
      splitLine: { show: false }
    }
  ],
  legend: [
    Object.assign({}, legendBase, {
      left: 233, top: 519,
      data: [
        { name: 'FILT-T01A', icon: KEY_SQUARE },
        { name: 'FILT-T03A', icon: KEY_TRIANGLE },
        { name: 'FILT-T05A', icon: PLUS },
        { name: 'Suction Flow to T42A (FT-0623)', icon: KEY_LINE }
      ]
    }),
    Object.assign({}, legendBase, {
      left: 495, top: 519,
      data: [
        { name: 'FILT-T02A', icon: KEY_DIAMOND },
        { name: 'FILT-T04A', icon: KEY_CIRCLE },
        { name: 'Laser Level', icon: KEY_SQUARE },
        { name: 'Discharge Flow from T43A (FT-0635)', icon: KEY_LINE }
      ]
    })
  ],
  graphic: [
    { type: 'rect', left: 230, top: 515, shape: { width: 552, height: 69 }, style: { fill: '#fff', stroke: '#000', lineWidth: 1 }, z: 10 },
    { type: 'text', x: 17, y: 300, rotation: Math.PI / 2, style: { text: 'Axial Pressure differential (psi)', font: 'bold 16px ' + FONT, fill: '#000', textAlign: 'center', textVerticalAlign: 'middle' } },
    { type: 'text', x: 1003, y: 292, rotation: Math.PI / 2, style: { text: 'Loop Flow Rate (gpm)', font: 'bold 16px ' + FONT, fill: '#000', textAlign: 'center', textVerticalAlign: 'middle' } },
    { type: 'text', x: 1022, y: 295, rotation: Math.PI / 2, style: { text: 'Level (inches)', font: 'bold 16px ' + FONT, fill: '#000', textAlign: 'center', textVerticalAlign: 'middle' } },
    { type: 'text', x: 507, y: 651, style: { text: 'PDT Time Stamp: 03/23/2009 - 03/24/2009', font: 'bold 16px ' + FONT, fill: '#000', textAlign: 'center', textVerticalAlign: 'middle' } }
  ],
  series: [
    scatter('FILT-T01A', filtSeries(t01aStart, t01aRun, t01aStop), 'rect', 8, '#FF0000'),
    scatter('FILT-T02A', filtSeries(t02aStart, t02aRun, t02aStop, t02aRun2), 'diamond', 11, '#0000FF'),
    scatter('FILT-T03A', filtSeries(t03aStart, t03aRun, t03aStop, t03aRun2), 'triangle', 10, '#008000'),
    scatter('FILT-T04A', filtSeries(t04aStart, t04aRun, t04aStop, t04aRun2), 'circle', 9, '#800080'),
    scatter('FILT-T05A', filtSeries(t05aStart, t05aRun, t05aStop, t05aRun2), PLUS, 10, '#FFCC00'),
    scatter('Laser Level', laserData, 'rect', 8, '#000000', 1),
    flow('Suction Flow to T42A (FT-0623)', flowSeries(suctionStart, suctionRun, suctionStop), '#FF6600'),
    flow('Discharge Flow from T43A (FT-0635)', flowSeries(dischargeStart, dischargeRun, dischargeStop), '#800000')
  ]
});
</script>
</body>
</html>
